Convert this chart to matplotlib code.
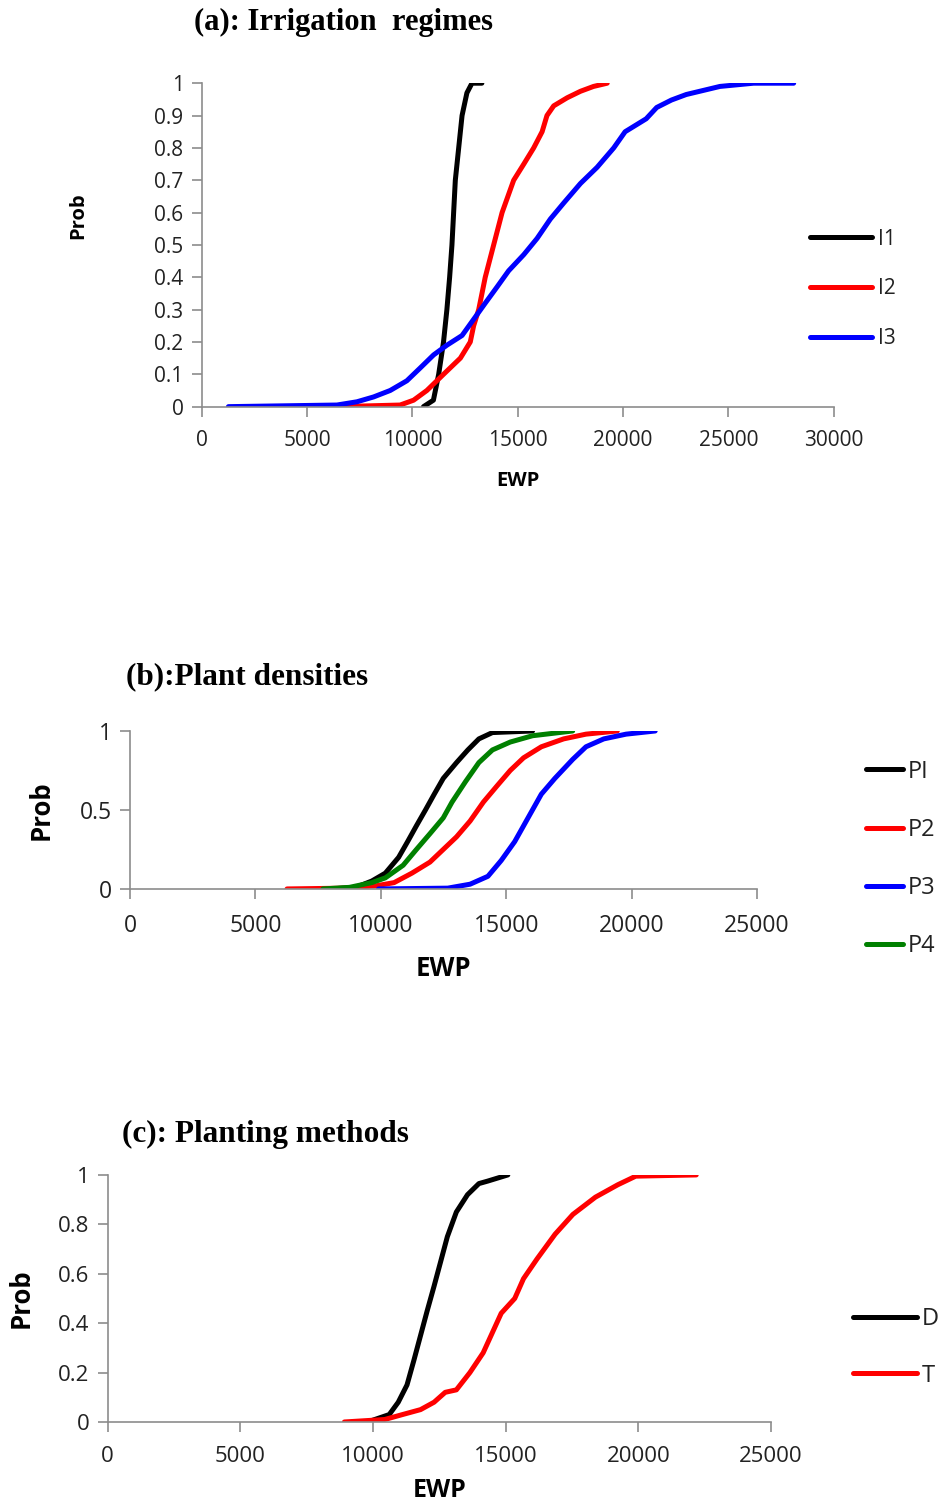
import numpy as np
import matplotlib
matplotlib.use("Agg")
from matplotlib import pyplot as plt

# (a) irrigation regimes: cumulative probability of EWP
i1_x = [10530, 11000, 11250, 11480, 11640, 11770, 11880, 11960, 12040, 12200, 12360, 12590, 12830, 13300]
i1_y = [0.0, 0.02, 0.1, 0.2, 0.3, 0.4, 0.5, 0.6, 0.7, 0.8, 0.9, 0.97, 1.0, 1.0]
i2_x = [6500, 9420, 10060, 10690, 11480, 12280, 12750, 12910, 13150, 13460, 13860, 14260, 14810, 15290,
        15760, 16160, 16390, 16710, 17350, 17980, 18600, 19250]
i2_y = [0.0, 0.005, 0.02, 0.05, 0.1, 0.15, 0.2, 0.25, 0.3, 0.4, 0.5, 0.6, 0.7, 0.75,
        0.8, 0.85, 0.9, 0.93, 0.955, 0.975, 0.99, 1.0]
i3_x = [1270, 6420, 7370, 8160, 8950, 9740, 10380, 11010, 11640, 12360, 12910, 13460, 14020, 14570,
        15290, 15920, 16550, 17190, 17980, 18770, 19560, 20100, 20500, 21100, 21600, 22300, 23000,
        24600, 26200, 28100]
i3_y = [0.0, 0.005, 0.015, 0.03, 0.05, 0.08, 0.12, 0.16, 0.19, 0.22, 0.27, 0.32, 0.37, 0.42,
        0.47, 0.52, 0.58, 0.63, 0.69, 0.74, 0.8, 0.85, 0.866, 0.89, 0.925, 0.948, 0.965,
        0.99, 1.0, 1.0]

# (b) plant densities
p1_x = [8000, 9000, 9640, 10180, 10710, 11070, 11420, 11780, 12130, 12490, 13020, 13470, 13910, 14450, 16050]
p1_y = [0.0, 0.01, 0.05, 0.1, 0.2, 0.3, 0.4, 0.5, 0.6, 0.7, 0.8, 0.88, 0.95, 0.99, 1.0]
p2_x = [6260, 8580, 9820, 10530, 11240, 11960, 12490, 13020, 13560, 14090, 14620, 15160, 15690,
        16400, 17290, 18180, 19430]
p2_y = [0.0, 0.005, 0.02, 0.04, 0.1, 0.17, 0.25, 0.33, 0.43, 0.55, 0.65, 0.75, 0.83,
        0.9, 0.95, 0.98, 1.0]
p3_x = [9910, 12670, 13560, 14270, 14800, 15340, 15870, 16400, 16940, 17650, 18180, 18890, 19780, 20940]
p3_y = [0.0, 0.005, 0.03, 0.08, 0.18, 0.3, 0.45, 0.6, 0.7, 0.82, 0.9, 0.95, 0.98, 1.0]
p4_x = [7690, 8750, 9640, 10180, 10890, 11420, 11960, 12490, 12840, 13380, 13910, 14450, 15160,
        16050, 17650]
p4_y = [0.0, 0.01, 0.04, 0.07, 0.15, 0.25, 0.35, 0.45, 0.55, 0.68, 0.8, 0.88, 0.93,
        0.97, 1.0]

# (c) planting methods
d_x = [9930, 10610, 10950, 11280, 11540, 11790, 12040, 12300, 12550, 12800, 13140, 13560, 13990,
       14320, 15080]
d_y = [0.005, 0.03, 0.08, 0.15, 0.25, 0.35, 0.45, 0.55, 0.65, 0.75, 0.85, 0.92, 0.965,
       0.975, 1.0]
t_x = [8920, 10440, 11110, 11790, 12300, 12720, 13140, 13650, 14150, 14490, 14830, 15340, 15670,
       16180, 16860, 17530, 18380, 19220, 19900, 22180]
t_y = [0.0, 0.01, 0.03, 0.05, 0.08, 0.12, 0.13, 0.2, 0.28, 0.36, 0.44, 0.5, 0.58,
       0.66, 0.76, 0.84, 0.91, 0.96, 0.995, 1.0]

grey = '#8c8c8c'
tick_font = 'Open Sans'
title_font = 'Liberation Serif'


def style_axes(ax, xmax, xstep, yticks, ylabels, fs, pad):
    ax.set_xlim(0, xmax)
    ax.set_ylim(0, 1)
    ax.set_xticks(np.arange(0, xmax + 1, xstep))
    ax.set_yticks(yticks)
    ax.set_yticklabels(ylabels)
    for s in ['top', 'right']:
        ax.spines[s].set_visible(False)
    for s in ['left', 'bottom']:
        ax.spines[s].set_color(grey)
        ax.spines[s].set_linewidth(1.2)
    ax.tick_params(colors=grey, labelcolor='#222222', direction='out', length=7, width=1.2,
                   labelsize=fs, pad=6)
    ax.tick_params(axis='x', pad=pad)
    for lab in ax.get_xticklabels() + ax.get_yticklabels():
        lab.set_family(tick_font)
    ax.margins(0)


fig = plt.figure(figsize=(9.49, 15.10), dpi=100)
lw = 3.6

# ---- (a)
ax1 = fig.add_axes([0.2125, 0.7307, 0.666, 0.2142])
ax1.plot(i1_x, i1_y, color='black', lw=lw, label='I1', solid_capstyle='round')
ax1.plot(i2_x, i2_y, color='red', lw=lw, label='I2', solid_capstyle='round')
ax1.plot(i3_x, i3_y, color='blue', lw=lw, label='I3', solid_capstyle='round')
style_axes(ax1, 30000, 5000, np.arange(0, 1.01, 0.1),
           ['0', '0.1', '0.2', '0.3', '0.4', '0.5', '0.6', '0.7', '0.8', '0.9', '1'], 15, 10)
ax1.set_xlabel('EWP', family=tick_font, fontweight='bold', fontsize=14.5, labelpad=14)
ax1.set_ylabel('Prob', family=tick_font, fontweight='bold', fontsize=14.5)
ax1.yaxis.set_label_coords(-0.18, 0.59)
leg = ax1.legend(loc='center left', bbox_to_anchor=(0.9625, 0.364), frameon=False,
                 prop={'family': tick_font, 'size': 15}, handlelength=3.0, handletextpad=0.25,
                 labelspacing=1.38, borderpad=0, borderaxespad=0)
for t in leg.get_texts():
    t.set_color('#222222')
fig.text(0.204, 0.985, '(a): Irrigation  regimes', family=title_font, fontweight='bold',
         fontsize=22, va='center', ha='left')

# ---- (b)
ax2 = fig.add_axes([0.137, 0.4113, 0.6607, 0.1046])
ax2.plot(p1_x, p1_y, color='black', lw=lw, label='PI', solid_capstyle='round')
ax2.plot(p2_x, p2_y, color='red', lw=lw, label='P2', solid_capstyle='round')
ax2.plot(p3_x, p3_y, color='blue', lw=lw, label='P3', solid_capstyle='round')
ax2.plot(p4_x, p4_y, color='green', lw=lw, label='P4', solid_capstyle='round')
style_axes(ax2, 25000, 5000, [0, 0.5, 1], ['0', '0.5', '1'], 16.5, 11)
ax2.set_xlabel('EWP', family=tick_font, fontweight='bold', fontsize=18.5, labelpad=12)
ax2.set_ylabel('Prob', family=tick_font, fontweight='bold', fontsize=18.5)
ax2.yaxis.set_label_coords(-0.12, 0.5)
leg = ax2.legend(loc='center left', bbox_to_anchor=(1.174, 0.19), frameon=False,
                 prop={'family': tick_font, 'size': 17}, handlelength=1.55, handletextpad=0.2,
                 labelspacing=1.45, borderpad=0, borderaxespad=0)
for t in leg.get_texts():
    t.set_color('#222222')
fig.text(0.133, 0.552, '(b):Plant densities', family=title_font, fontweight='bold',
         fontsize=22.5, va='center', ha='left')

# ---- (c)
ax3 = fig.add_axes([0.1135, 0.0583, 0.699, 0.1636])
ax3.plot(d_x, d_y, color='black', lw=lw, label='D', solid_capstyle='round')
ax3.plot(t_x, t_y, color='red', lw=lw, label='T', solid_capstyle='round')
style_axes(ax3, 25000, 5000, [0, 0.2, 0.4, 0.6, 0.8, 1],
           ['0', '0.2', '0.4', '0.6', '0.8', '1'], 16, 10)
ax3.set_xlabel('EWP', family=tick_font, fontweight='bold', fontsize=18, labelpad=8)
ax3.set_ylabel('Prob', family=tick_font, fontweight='bold', fontsize=18.5)
ax3.yaxis.set_label_coords(-0.11, 0.5)
leg = ax3.legend(loc='center left', bbox_to_anchor=(1.124, 0.3016), frameon=False,
                 prop={'family': tick_font, 'size': 17}, handlelength=2.7, handletextpad=0.2,
                 labelspacing=1.38, borderpad=0, borderaxespad=0)
for t in leg.get_texts():
    t.set_color('#222222')
fig.text(0.129, 0.249, '(c): Planting methods', family=title_font, fontweight='bold',
         fontsize=22.5, va='center', ha='left')

fig.savefig('out.png', dpi=100)
